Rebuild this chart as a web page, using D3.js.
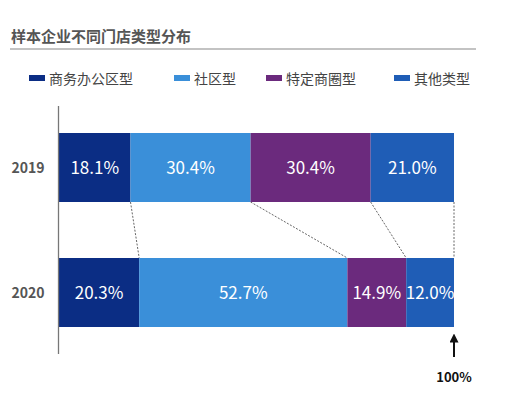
<!DOCTYPE html>
<html lang="zh">
  <head>
    <meta charset="UTF-8" />
    <title>样本企业不同门店类型分布</title>
    <script src="https://d3js.org/d3.v7.min.js"></script>
    <style>
      body { margin: 0; background: #fff; }
      text { font-family: "Noto Sans CJK SC", "Noto Sans", sans-serif; }
    </style>
  </head>

  <body>
    <svg width="509" height="394"></svg>

    <script>
      const years = ["2019", "2020"];
      const types = ["商务办公区型", "社区型", "特定商圈型", "其他类型"];
      const values2019 = [18.1, 30.4, 30.4, 21.0];
      const values2020 = [20.3, 52.7, 14.9, 12.0];
      const colors = ["#0b2d84", "#3a8fd9", "#6b2a7d", "#1f5db6"];

      const svg = d3.select("svg");

      // title + rule
      svg.append("text")
        .attr("x", 11).attr("y", 42)
        .attr("font-size", 15).attr("font-weight", "bold")
        .attr("fill", "#555")
        .text("样本企业不同门店类型分布");
      svg.append("line")
        .attr("x1", 10).attr("x2", 476)
        .attr("y1", 49).attr("y2", 49)
        .attr("stroke", "#888").attr("stroke-width", 1.2);

      // legend
      const legendX = [29, 174, 266, 394];
      const legend = svg.append("g").selectAll("g")
        .data(types).enter().append("g")
        .attr("transform", (d, i) => `translate(${legendX[i]},0)`);
      legend.append("rect")
        .attr("x", 0).attr("y", 75).attr("width", 16).attr("height", 6)
        .attr("fill", (d, i) => colors[i]);
      legend.append("text")
        .attr("x", 20).attr("y", 84)
        .attr("font-size", 14).attr("fill", "#444")
        .text(d => d);

      // scales
      const x = d3.scaleLinear().domain([0, 100]).range([59, 454]);
      const y = d3.scaleBand().domain(years).range([133, 327]).paddingInner(0.448);

      const rows = [values2019, values2020].map((vals, r) => {
        let acc = 0;
        return vals.map((v, i) => {
          const seg = { year: years[r], value: v, i: i, x0: acc, x1: acc + v };
          acc += v;
          return seg;
        });
      });

      // connectors between boundaries
      const rowA = rows[0], rowB = rows[1];
      svg.append("g").selectAll("line")
        .data(types.map((t, i) => i)).enter().append("line")
        .attr("x1", i => i === 3 ? x(100) : x(rowA[i].x1))
        .attr("x2", i => i === 3 ? x(100) : x(rowB[i].x1))
        .attr("y1", y(years[0]) + y.bandwidth())
        .attr("y2", y(years[1]))
        .attr("stroke", "#555").attr("stroke-width", 0.9)
        .attr("stroke-dasharray", "2,1.5");

      // bars
      const barG = svg.append("g").selectAll("g")
        .data(rows).enter().append("g");
      barG.selectAll("rect")
        .data(d => d).enter().append("rect")
        .attr("x", d => x(d.x0))
        .attr("width", d => d.i === 3 ? x(100) - x(d.x0) : x(d.x1) - x(d.x0))
        .attr("y", d => y(d.year))
        .attr("height", y.bandwidth())
        .attr("fill", d => colors[d.i]);
      barG.selectAll("text")
        .data(d => d).enter().append("text")
        .attr("x", d => d.i === 3 ? (x(d.x0) + x(100)) / 2 : (x(d.x0) + x(d.x1)) / 2)
        .attr("y", d => y(d.year) + y.bandwidth() / 2 + 6)
        .attr("text-anchor", "middle")
        .attr("font-family", "Roboto, sans-serif")
        .attr("font-size", 17)
        .attr("fill", "#fff")
        .text(d => d.value.toFixed(1) + "%");

      // year labels
      svg.append("g").selectAll("text")
        .data(years).enter().append("text")
        .attr("x", 28).attr("y", d => y(d) + y.bandwidth() / 2 + 5)
        .attr("text-anchor", "middle")
        .attr("font-size", 14).attr("font-weight", "bold")
        .attr("fill", "#555")
        .text(d => d);

      // axis line
      svg.append("line")
        .attr("x1", 58.5).attr("x2", 58.5)
        .attr("y1", 106).attr("y2", 354)
        .attr("stroke", "#777").attr("stroke-width", 1.3);

      // 100% arrow
      svg.append("defs").append("marker")
        .attr("id", "arr").attr("viewBox", "0 0 10 10")
        .attr("refX", 5).attr("refY", 5)
        .attr("markerWidth", 4.5).attr("markerHeight", 4.5)
        .attr("orient", "auto-start-reverse")
        .append("path").attr("d", "M0,0 L10,5 L0,10 Z").attr("fill", "#111");
      svg.append("line")
        .attr("x1", x(100)).attr("x2", x(100))
        .attr("y1", 357).attr("y2", 338)
        .attr("stroke", "#111").attr("stroke-width", 2)
        .attr("marker-end", "url(#arr)");
      svg.append("text")
        .attr("x", x(100)).attr("y", 382)
        .attr("text-anchor", "middle")
        .attr("font-size", 13).attr("font-weight", "bold")
        .attr("fill", "#111")
        .text("100%");
    </script>
  </body>
</html>
